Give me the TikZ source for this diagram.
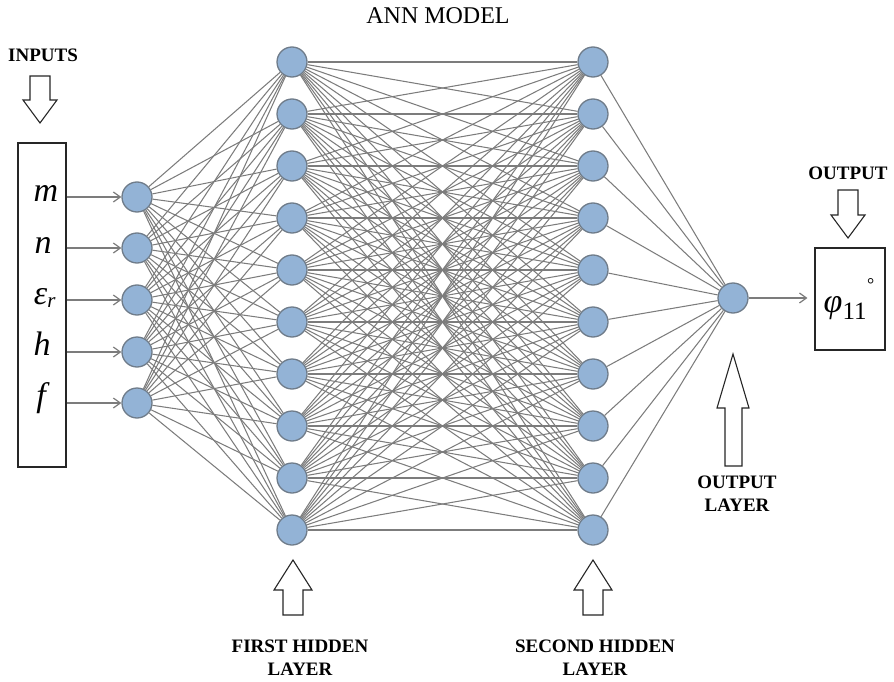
\documentclass[tikz,border=0pt]{standalone}
\usepackage{fontspec}
\setmainfont{Liberation Serif}
\usetikzlibrary{arrows.meta}
\definecolor{nodefill}{HTML}{93B3D6}
\definecolor{nodeedge}{HTML}{6F7C8A}
\definecolor{wire}{HTML}{7C7C7C}
\begin{document}
\begin{tikzpicture}[x=1pt,y=-1pt,
  neuron/.style={circle, minimum size=30pt, inner sep=0pt, fill=nodefill, draw=nodeedge, line width=1.3pt},
  wirestyle/.style={draw=wire, line width=1.05pt},
  feed/.style={draw=wire, line width=1.2pt, -{Straight Barb[length=7pt,width=10pt]}},
  blockarrow/.style={draw=black!85, line width=1.1pt, fill=white, line join=miter},
  boxstyle/.style={draw=black!85, line width=1.1pt, fill=white, inner sep=0pt},
  mathlbl/.style={font=\itshape\fontsize{34}{34}\selectfont, inner sep=0pt, anchor=base},
  boldlbl/.style={font=\bfseries\fontsize{19}{23}\selectfont, align=center, inner sep=0pt},
  titlelbl/.style={font=\fontsize{24}{24}\selectfont, inner sep=0pt}]
\useasboundingbox (0,0) rectangle (894,682);

% title
\node[titlelbl] (title) at (438,16) {ANN MODEL};

% input box
\node[boxstyle, minimum width=48pt, minimum height=324pt] (inbox) at (42,305) {};

% neurons
\foreach \i/\y in {1/197,2/248,3/300,4/352,5/403}
  \node[neuron] (in\i) at (137,\y) {};
\foreach \i in {1,...,10} {
  \node[neuron] (ha\i) at (292,{62+52*(\i-1)}) {};
  \node[neuron] (hb\i) at (593,{62+52*(\i-1)}) {};
}
\node[neuron] (out) at (733,298) {};

% output box
\node[boxstyle, minimum width=70pt, minimum height=102pt] (outbox) at (850,299) {};

% connections
\foreach \i in {1,...,5}
  \foreach \j in {1,...,10}
    \draw[wirestyle] (in\i) -- (ha\j);
\foreach \i in {1,...,10}
  \foreach \j in {1,...,10}
    \draw[wirestyle] (ha\i) -- (hb\j);
\foreach \i in {1,...,10}
  \draw[wirestyle] (hb\i) -- (out);

% feed arrows
\foreach \i in {1,...,5}
  \draw[feed] (inbox.east |- in\i) -- (in\i);
\draw[feed, shorten >=7pt] (out) -- (outbox.west |- out);

% input labels
\node[mathlbl] (lm) at (46,201) {m};
\node[mathlbl] (ln) at (43,253) {n};
\node[mathlbl] (le) at (45,304) {ε\textsubscript{\fontsize{21}{21}\selectfont r}};
\node[mathlbl] (lh) at (42,355) {h};
\node[mathlbl] (lf) at (41,406) {f};

% output label
\node[mathlbl, font=\fontsize{34}{34}\selectfont] (phi) at (849,312)
  {\textit{φ}\textsubscript{\fontsize{25}{25}\selectfont 11}\raisebox{22pt}{\fontsize{18}{18}\selectfont °}};

% block arrows
\draw[blockarrow] (30,76) -- (50,76) -- (50,100) -- (57,100) -- (40,123) -- (23,100) -- (30,100) -- cycle;
\draw[blockarrow] (838,190) -- (858,190) -- (858,215) -- (865,215) -- (848,238) -- (831,215) -- (838,215) -- cycle;
\draw[blockarrow] (293,560) -- (312,590) -- (303,590) -- (303,615) -- (283,615) -- (283,590) -- (274,590) -- cycle;
\draw[blockarrow] (593,560) -- (612,590) -- (603,590) -- (603,615) -- (583,615) -- (583,590) -- (574,590) -- cycle;
\draw[blockarrow] (733,354) -- (749,408) -- (742,408) -- (742,466) -- (725,466) -- (725,408) -- (717,408) -- cycle;

% bold labels
\node[boldlbl] (linputs) at (43,55) {INPUTS};
\node[boldlbl] (loutput) at (848,173) {OUTPUT};
\node[boldlbl] (lfirst) at (300,658) {FIRST HIDDEN\\LAYER};
\node[boldlbl] (lsecond) at (595,658) {SECOND HIDDEN\\LAYER};
\node[boldlbl] (loutlayer) at (737,494) {OUTPUT\\LAYER};
\end{tikzpicture}
\end{document}
